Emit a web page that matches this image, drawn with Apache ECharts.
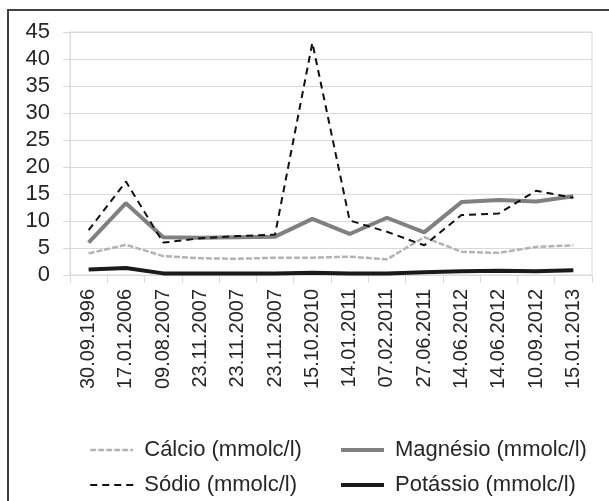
<!DOCTYPE html>
<html>
<head>
<meta charset="utf-8">
<script src="https://cdn.jsdelivr.net/npm/echarts@6/dist/echarts.min.js"></script>
<style>
html,body{margin:0;padding:0;background:#fff;}
#chart{width:609px;height:501px;}
</style>
</head>
<body>
<div id="chart"></div>
<script>
const categories = ['30.09.1996','17.01.2006','09.08.2007','23.11.2007','23.11.2007','23.11.2007','15.10.2010','14.01.2011','07.02.2011','27.06.2011','14.06.2012','14.06.2012','10.09.2012','15.01.2013'];
const calcio   = [4.0, 5.6, 3.5, 3.1, 3.0, 3.2, 3.2, 3.4, 2.9, 7.0, 4.3, 4.1, 5.2, 5.5];
const magnesio = [6.0, 13.3, 7.0, 6.9, 7.0, 7.1, 10.4, 7.6, 10.6, 7.9, 13.5, 13.9, 13.6, 14.6];
const sodio    = [8.3, 17.3, 6.0, 6.8, 7.2, 7.5, 43.0, 10.1, 8.0, 5.5, 11.1, 11.4, 15.6, 14.3];
const potassio = [1.0, 1.3, 0.3, 0.3, 0.3, 0.3, 0.4, 0.3, 0.3, 0.5, 0.7, 0.8, 0.7, 0.9];
const yTicks = {min: 0, max: 45, interval: 5};
const names = ['Cálcio (mmolc/l)', 'Magnésio (mmolc/l)', 'Sódio (mmolc/l)', 'Potássio (mmolc/l)'];

const styles = [
  {color: '#b3b3b3', width: 2.5, type: [6, 2]},
  {color: '#808080', width: 4, type: 'solid'},
  {color: '#111111', width: 2, type: [7, 5]},
  {color: '#1a1a1a', width: 4, type: 'solid'}
];

const chart = echarts.init(document.getElementById('chart'), null, {renderer: 'canvas'});
const font = 'Liberation Sans, Arial, sans-serif';
const legendBase = {
  orient: 'vertical', top: 434, itemWidth: 43, itemHeight: 14, itemGap: 13,
  itemStyle: {opacity: 0},
  textStyle: {fontFamily: font, fontSize: 22, color: '#262626', lineHeight: 22, padding: [0,0,0,6]}
};
const legendItem = i => ({name: names[i], lineStyle: Object.assign({}, styles[i])});
chart.setOption({
  animation: false,
  backgroundColor: '#fff',
  graphic: [{type: 'rect', shape: {x: 8, y: 10, width: 700, height: 600}, style: {fill: 'none', stroke: '#404040', lineWidth: 2}}],
  grid: {left: 70, right: 17, top: 32, bottom: 226, show: true, borderColor: '#d9d9d9', borderWidth: 1},
  legend: [
    Object.assign({}, legendBase, {left: 84, data: [legendItem(0), legendItem(2)]}),
    Object.assign({}, legendBase, {left: 334, data: [legendItem(1), legendItem(3)]})
  ],
  xAxis: {
    type: 'category', data: categories, boundaryGap: true,
    axisLine: {lineStyle: {color: '#d9d9d9', width: 1}},
    axisTick: {show: true, length: 8, lineStyle: {color: '#d9d9d9'}},
    axisLabel: {rotate: 90, interval: 0, margin: 14, fontFamily: font, fontSize: 20, color: '#262626'}
  },
  yAxis: {
    type: 'value', min: yTicks.min, max: yTicks.max, interval: yTicks.interval,
    axisLine: {show: true, lineStyle: {color: '#d9d9d9'}},
    axisTick: {show: true, length: 7, lineStyle: {color: '#d9d9d9'}},
    splitLine: {lineStyle: {color: '#d9d9d9', width: 1}},
    axisLabel: {margin: 20, fontFamily: font, fontSize: 22, color: '#262626'}
  },
  series: [
    {name: names[0], type: 'line', data: calcio, symbol: 'none', z: 2,
     lineStyle: styles[0], itemStyle: {color: styles[0].color}},
    {name: names[1], type: 'line', data: magnesio, symbol: 'none', z: 3,
     lineStyle: styles[1], itemStyle: {color: styles[1].color}},
    {name: names[2], type: 'line', data: sodio, symbol: 'none', z: 4,
     lineStyle: styles[2], itemStyle: {color: styles[2].color}},
    {name: names[3], type: 'line', data: potassio, symbol: 'none', z: 5,
     lineStyle: styles[3], itemStyle: {color: styles[3].color}}
  ]
});
</script>
</body>
</html>
